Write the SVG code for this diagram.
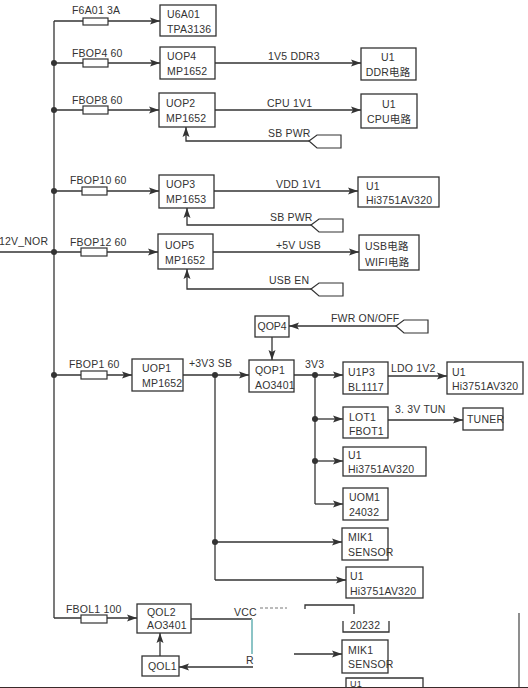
<svg xmlns="http://www.w3.org/2000/svg" width="528" height="688" viewBox="0 0 528 688">
<style>
text{font-family:"Liberation Sans","Noto Sans CJK SC",sans-serif;font-size:10.5px;fill:#333;letter-spacing:0.2px}
.b{fill:none;stroke:#333;stroke-width:1.3}
.w{fill:none;stroke:#333;stroke-width:1.3}
.f{fill:#fff;stroke:#333;stroke-width:1.2}
.a{fill:none;stroke:#333;stroke-width:1.3;marker-end:url(#ah)}
.c{text-anchor:middle}
</style>
<defs>
<marker id="ah" markerUnits="userSpaceOnUse" markerWidth="10" markerHeight="8" refX="10" refY="4" orient="auto"><path d="M0,0.5 L10,4 L0,7.5 L2,4 Z" fill="#333"/></marker>
<path id="tag" d="M0,0 L8,-6 H32 V7 H8 Z" fill="#fff" stroke="#333" stroke-width="1.2"/>
</defs>
<rect width="528" height="688" fill="#fff"/>

<g id="connectors">
<path class="w" d="M54,21 V618"/>
<path class="w" d="M0,252 H54"/>
<path class="a" d="M54,21 H160"/>
<path class="a" d="M54,63 H160"/>
<path class="a" d="M54,110 H159"/>
<path class="a" d="M54,191 H159"/>
<path class="a" d="M54,252 H158"/>
<path class="a" d="M54,375 H132"/>
<path class="a" d="M54,618 H137"/>
<circle cx="54" cy="63" r="3" fill="#333"/>
<circle cx="54" cy="110" r="3" fill="#333"/>
<circle cx="54" cy="191" r="3" fill="#333"/>
<circle cx="54" cy="252" r="3" fill="#333"/>
<circle cx="54" cy="375" r="3" fill="#333"/>
<rect class="f" x="83" y="18" width="25" height="7"/>
<rect class="f" x="83" y="59" width="25" height="8"/>
<rect class="f" x="83" y="106" width="25" height="8"/>
<rect class="f" x="82" y="187" width="25" height="8"/>
<rect class="f" x="81" y="248" width="26" height="8"/>
<rect class="f" x="81" y="371" width="26" height="8"/>
<rect class="f" x="81" y="615" width="26" height="8"/>
<text x="72" y="14">F6A01 3A</text>
<text x="72" y="57">FBOP4 60</text>
<text x="72" y="104">FBOP8 60</text>
<text x="70" y="184">FBOP10 60</text>
<text x="70" y="246">FBOP12 60</text>
<text x="69" y="368">FBOP1 60</text>
<text x="66" y="613">FBOL1 100</text>
<text x="-1" y="245">12V_NOR</text>

<path class="a" d="M215,63 H361"/>
<text x="268" y="60">1V5 DDR3</text>
<path class="a" d="M215,110 H361"/>
<text x="267" y="107">CPU 1V1</text>
<path class="a" d="M309,141 H186 V127"/>
<use href="#tag" x="309" y="141"/>
<text x="268" y="137">SB PWR</text>
<path class="a" d="M214,191 H358"/>
<text x="276" y="188">VDD 1V1</text>
<path class="a" d="M311,225 H187 V208"/>
<use href="#tag" x="311" y="225"/>
<text x="270" y="221">SB PWR</text>
<path class="a" d="M213,252 H359"/>
<text x="276" y="249">+5V USB</text>
<path class="a" d="M311,289 H187 V269"/>
<use href="#tag" x="311" y="289"/>
<text x="269" y="284">USB EN</text>

<path class="a" d="M396,326 H289"/>
<use href="#tag" x="396" y="326"/>
<text x="331" y="322">FWR ON/OFF</text>
<path class="a" d="M272,337 V360"/>

<path class="a" d="M183,375 H249"/>
<circle cx="215" cy="375" r="3" fill="#333"/>
<text x="189" y="367">+3V3 SB</text>
<path class="w" d="M215,375 V580"/>
<circle cx="215" cy="542" r="3" fill="#333"/>
<path class="a" d="M215,542 H342"/>
<path class="a" d="M215,580 H346"/>

<path class="a" d="M294,375 H343"/>
<circle cx="315" cy="375" r="3" fill="#333"/>
<text x="305" y="368">3V3</text>
<path class="w" d="M315,375 V504"/>
<circle cx="315" cy="419" r="3" fill="#333"/>
<circle cx="315" cy="461" r="3" fill="#333"/>
<path class="a" d="M315,419 H343"/>
<path class="a" d="M315,461 H343"/>
<path class="a" d="M315,504 H343"/>
<path class="a" d="M388,376 H447"/>
<text x="391" y="372">LDO 1V2</text>
<path class="a" d="M388,420 H463"/>
<text x="395" y="413">3. 3V TUN</text>

<path class="w" d="M191,619 H252"/>
<text x="234" y="616">VCC</text>
<path d="M260,608 H287" stroke="#777" stroke-width="1" stroke-dasharray="3,2" fill="none"/>
<path d="M252,619 V654" stroke="#8cc4c6" stroke-width="2" fill="none"/>
<text x="246" y="664">R</text>
<path class="a" d="M253,667 H179"/>
<path class="a" d="M160,656 V633"/>
<path class="a" d="M294,654 H342"/>
<path d="M519,613 V688" stroke="#444" stroke-width="1.2"/>
<path d="M0,687.5 H528" stroke="#3a2a2a" stroke-width="1"/>
</g>

<g id="U6A01"><rect class="b" x="160" y="5" width="56" height="31"/><text x="167" y="18">U6A01</text><text x="167" y="33">TPA3136</text></g>
<g id="UOP4"><rect class="b" x="160" y="47" width="55" height="32"/><text x="167" y="60">UOP4</text><text x="167" y="75">MP1652</text></g>
<g id="U1_DDR"><rect class="b" x="361" y="48" width="55" height="32"/><text class="c" x="388" y="61">U1</text><text class="c" x="388" y="76">DDR电路</text></g>
<g id="UOP2"><rect class="b" x="159" y="93" width="56" height="34"/><text x="166" y="107">UOP2</text><text x="166" y="122">MP1652</text></g>
<g id="U1_CPU"><rect class="b" x="361" y="94" width="56" height="34"/><text class="c" x="389" y="108">U1</text><text class="c" x="389" y="123">CPU电路</text></g>
<g id="UOP3"><rect class="b" x="159" y="175" width="55" height="33"/><text x="166" y="188">UOP3</text><text x="166" y="203">MP1653</text></g>
<g id="U1_A"><rect class="b" x="358" y="177" width="81" height="30"/><text x="366" y="190">U1</text><text x="366" y="204">Hi3751AV320</text></g>
<g id="UOP5"><rect class="b" x="158" y="234" width="55" height="35"/><text x="165" y="249">UOP5</text><text x="165" y="264">MP1652</text></g>
<g id="USB"><rect class="b" x="359" y="235" width="60" height="35"/><text x="365" y="250">USB电路</text><text x="365" y="266">WIFI电路</text></g>
<g id="QOP4"><rect class="b" x="255" y="316" width="34" height="21"/><text x="257.5" y="330" style="letter-spacing:0">QOP4</text></g>
<g id="UOP1"><rect class="b" x="132" y="359" width="51" height="32"/><text x="142" y="372">UOP1</text><text x="142" y="387">MP1652</text></g>
<g id="QOP1"><rect class="b" x="249" y="360" width="45" height="32"/><text x="255" y="374">QOP1</text><text x="255" y="389">AO3401</text></g>
<g id="U1P3"><rect class="b" x="343" y="362" width="45" height="32"/><text x="348" y="376">U1P3</text><text x="348" y="391">BL1117</text></g>
<g id="U1_B"><rect class="b" x="447" y="362" width="76" height="32"/><text x="452" y="376">U1</text><text x="452" y="390">Hi3751AV320</text></g>
<g id="LOT1"><rect class="b" x="343" y="407" width="45" height="31"/><text x="349" y="421">LOT1</text><text x="349" y="435">FBOT1</text></g>
<g id="TUNER"><rect class="b" x="463" y="408" width="40" height="22"/><text x="467" y="423">TUNER</text></g>
<g id="U1_C"><rect class="b" x="343" y="447" width="83" height="29"/><text x="348" y="459">U1</text><text x="348" y="473">Hi3751AV320</text></g>
<g id="UOM1"><rect class="b" x="343" y="488" width="45" height="32"/><text x="349" y="501">UOM1</text><text x="349" y="516">24032</text></g>
<g id="MIK1_A"><rect class="b" x="342" y="528" width="46" height="32"/><text x="348" y="541">MIK1</text><text x="348" y="556">SENSOR</text></g>
<g id="U1_D"><rect class="b" x="346" y="567" width="77" height="31"/><text x="350" y="580">U1</text><text x="350" y="595">Hi3751AV320</text></g>
<g id="QOL2"><rect class="b" x="137" y="604" width="54" height="29"/><text x="147" y="616">QOL2</text><text x="147" y="629">AO3401</text></g>
<g id="QOL1"><rect class="b" x="142" y="656" width="37" height="20"/><text x="148" y="670">QOL1</text></g>
<g id="partial_top"><path class="b" d="M305,609 V605 H354 V614"/></g>
<g id="partial_24032"><path class="b" d="M343,621 V632 H389 V621"/><text x="350" y="629">20232</text></g>
<g id="MIK1_B"><rect class="b" x="342" y="640" width="46" height="33"/><text x="348" y="654">MIK1</text><text x="348" y="668">SENSOR</text></g>
<g id="U1_E"><path class="b" d="M346,688 V678 H423 V688"/><text x="350" y="687" style="font-size:9px">U1</text></g>
</svg>
